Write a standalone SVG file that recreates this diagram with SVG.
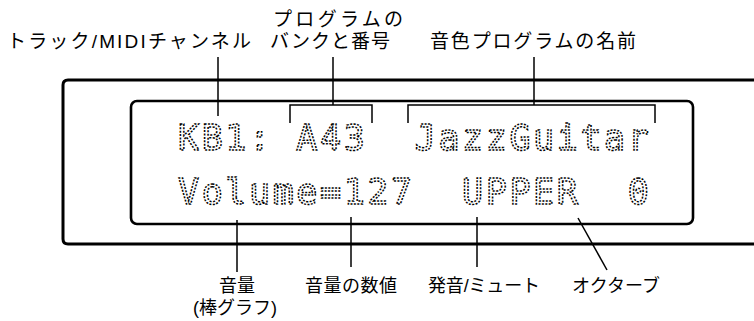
<svg xmlns="http://www.w3.org/2000/svg" width="754" height="321" viewBox="0 0 754 321">
<style>
.lbl{font-family:"Liberation Sans","Noto Sans CJK JP",sans-serif;font-size:18px;fill:#000;text-anchor:middle}
.top{font-size:19px}
.lcd{font-family:"DejaVu Sans Mono","Liberation Mono",monospace;font-size:35px;fill:none;stroke:#000;stroke-width:1.5;stroke-dasharray:2 1.4;letter-spacing:2.6px}
.ln{stroke:#000;stroke-width:1.5;fill:none}
.frame{stroke:#000;fill:none;stroke-linejoin:round}
</style>
<rect width="754" height="321" fill="#fff"/>
<g id="outer-panel">
<path class="frame" d="M754 80 H68 Q63 80 63 85 V239 Q63 244 68 244 H754" stroke-width="3"/>
</g>
<g id="lcd-display">
<rect class="frame" x="131" y="101" width="562" height="123" rx="6" stroke-width="2.6"/>
<text class="lcd" x="178" y="150" xml:space="preserve">KB1: A43  JazzGuitar</text>
<text class="lcd" x="178" y="204" xml:space="preserve">Volume=127  UPPER  0</text>
</g>
<g id="label-track">
<text class="lbl top" x="129" y="48" textLength="244">トラック/MIDIチャンネル</text>
</g>
<g id="label-bank">
<text class="lbl top" x="338" y="26" textLength="130">プログラムの</text>
<text class="lbl top" x="330" y="48" textLength="120">バンクと番号</text>
</g>
<g id="label-name">
<text class="lbl top" x="533" y="48" textLength="206">音色プログラムの名前</text>
</g>
<g id="label-volume-bar">
<text class="lbl" x="237" y="292">音量</text>
<text class="lbl" x="235" y="314">(棒グラフ)</text>
</g>
<g id="label-volume-value">
<text class="lbl" x="351" y="292" textLength="92">音量の数値</text>
</g>
<g id="label-mute">
<text class="lbl" x="484" y="292" textLength="112">発音/ミュート</text>
</g>
<g id="label-octave">
<text class="lbl" x="616" y="292" textLength="88">オクターブ</text>
</g>
<g id="connectors">
<line class="ln" x1="218" y1="57" x2="218" y2="116"/>
<line class="ln" x1="333" y1="57" x2="333" y2="105"/>
<path class="ln" d="M290 123 V105 H372 V123"/>
<line class="ln" x1="534" y1="57" x2="534" y2="105"/>
<path class="ln" d="M408 123 V105 H655 V123"/>
<line class="ln" x1="237" y1="220" x2="237" y2="272"/>
<line class="ln" x1="351" y1="217" x2="351" y2="267"/>
<line class="ln" x1="477" y1="217" x2="477" y2="267"/>
<line class="ln" x1="578" y1="218" x2="607" y2="270"/>
</g>
</svg>
